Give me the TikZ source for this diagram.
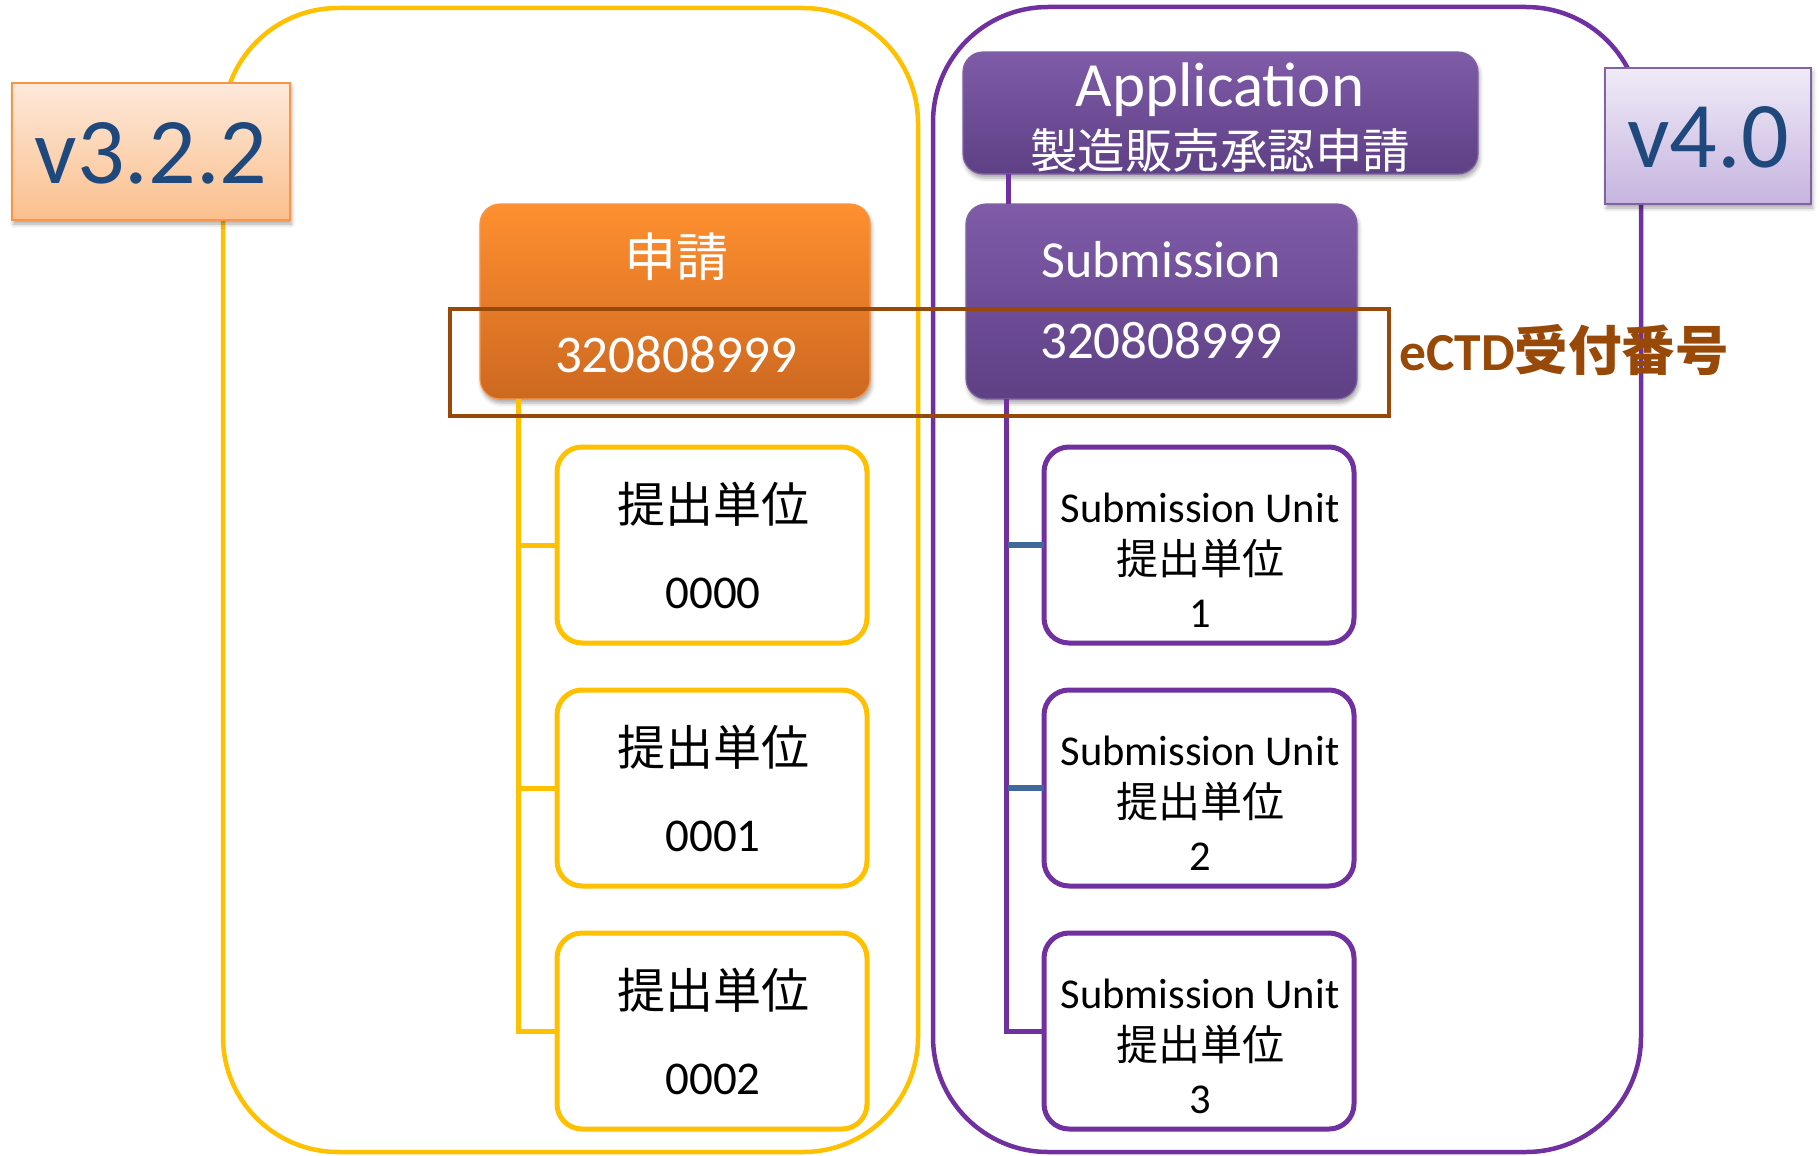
\documentclass[tikz,border=0pt]{standalone}
\usepackage{fontspec}
\setmainfont{Carlito}
\newfontfamily\jp{Noto Sans CJK JP}
\usetikzlibrary{shadows.blur}

\definecolor{frameY}{HTML}{FFC000}
\definecolor{frameP}{HTML}{7030A0}
\definecolor{orTop}{HTML}{FF9030}
\definecolor{orBot}{HTML}{CD6820}
\definecolor{orEdge}{HTML}{F79646}
\definecolor{puTop}{HTML}{7F5BA8}
\definecolor{puBot}{HTML}{5E4085}
\definecolor{puEdge}{HTML}{8064A2}
\definecolor{peachTop}{HTML}{FDE9DA}
\definecolor{peachBot}{HTML}{FBBF8D}
\definecolor{lavTop}{HTML}{F0EBF7}
\definecolor{lavBot}{HTML}{C6B4DF}
\definecolor{verText}{HTML}{1F497D}
\definecolor{idBrown}{HTML}{984807}
\definecolor{stubBlue}{HTML}{41689A}

\tikzset{
  softshadow/.style={blur shadow={shadow xshift=1.5pt, shadow yshift=-4pt,
      shadow opacity=35, shadow blur radius=4pt}},
  boxbase/.style={anchor=north west, inner sep=0pt, outer sep=0pt},
  versionbox/.style={boxbase, line width=2pt, softshadow},
  headbox/.style={boxbase, rounded corners=20pt, line width=1.2pt, softshadow},
  orangebox/.style={headbox, top color=orTop, bottom color=orBot, draw=orEdge},
  purplebox/.style={headbox, top color=puTop, bottom color=puBot, draw=puEdge},
  unitbox/.style={boxbase, rounded corners=25pt, line width=5pt, fill=white,
      minimum width=310pt, minimum height=196pt},
  yunit/.style={unitbox, draw=frameY},
  punit/.style={unitbox, draw=frameP},
  yframe/.style={draw=frameY, line width=4.5pt, rounded corners=115pt},
  pframe/.style={draw=frameP, line width=4.5pt, rounded corners=115pt},
  yconn/.style={draw=frameY, line width=5pt},
  pconn/.style={draw=frameP, line width=5pt},
  bconn/.style={draw=stubBlue, line width=5.5pt},
  txt/.style={anchor=base, inner sep=0pt},
}

\begin{document}
\begin{tikzpicture}[x=1pt, y=-1pt]
\useasboundingbox (0,0) rectangle (1820,1156);

% outer frames of the two versions
\draw[yframe] (223,8) rectangle (918,1152);
\draw[pframe] (933,7) rectangle (1641,1152);

% header boxes
\node[purplebox, minimum width=515pt, minimum height=122pt] (app) at (963,52) {};
\node[orangebox, minimum width=390pt, minimum height=195pt] (shinsei) at (480,204) {};
\node[purplebox, minimum width=391pt, minimum height=195pt] (sub) at (966,204) {};

% submission units
\node[yunit] (c1) at (557,447) {};
\node[yunit] (c2) at (557,690) {};
\node[yunit] (c3) at (557,933) {};
\node[punit] (u1) at (1044,447) {};
\node[punit] (u2) at (1044,690) {};
\node[punit] (u3) at (1044,933) {};

% tree connectors (v3.2.2)
\draw[yconn] ([xshift=38pt]shinsei.south west) |- (c3.west);
\draw[yconn] (c1.west) -- ++(-39,0);
\draw[yconn] (c2.west) -- ++(-39,0);

% tree connectors (v4.0)
\draw[pconn] ([xshift=45pt]app.south west) -- ++(0,30);
\draw[pconn] ([xshift=40pt]sub.south west) |- (u3.west);
\draw[bconn] (u1.west) -- ++(-36,0);
\draw[bconn] (u2.west) -- ++(-36,0);

% version tags
\node[versionbox, top color=peachTop, bottom color=peachBot, draw=orEdge,
      minimum width=278pt, minimum height=137pt] (v3) at (12,83) {};
\node[versionbox, top color=lavTop, bottom color=lavBot, draw=puEdge,
      minimum width=206pt, minimum height=136pt] (v4) at (1605,68) {};
\node[txt, text=verText, font=\fontsize{94}{94}\selectfont] (v3t) at (151,183) {v3.2.2};
\node[txt, text=verText, font=\fontsize{94}{94}\selectfont] (v4t) at (1708,167) {v4.0};

% header texts
\node[txt, text=white, font=\fontsize{63}{63}\selectfont] (appt) at (1220,106) {Application};
\node[txt, text=white, font=\jp\fontsize{47.5}{47.5}\selectfont] (appj) at (1220,168) {製造販売承認申請};
\node[txt, text=white, font=\jp\fontsize{52}{52}\selectfont] (shinseit) at (676,276) {申請};
\node[txt, text=white, font=\fontsize{53}{53}\selectfont] (shinseinum) at (676,372) {320808999};
\node[txt, text=white, font=\fontsize{52}{52}\selectfont] (subt) at (1161,277) {Submission};
\node[txt, text=white, font=\fontsize{53}{53}\selectfont] (subnum) at (1161,358) {320808999};

% unit texts (v3.2.2)
\foreach \n/\y/\num in {c1/447/0000, c2/690/0001, c3/933/0002} {
  \node[txt, font=\jp\fontsize{48}{48}\selectfont] (\n a) at (713,\y+75) {提出単位};
  \node[txt, font=\fontsize{47}{47}\selectfont] (\n b) at (713,\y+161) {\num};
}
% unit texts (v4.0)
\foreach \n/\y/\num in {u1/447/1, u2/690/2, u3/933/3} {
  \node[txt, font=\fontsize{42.5}{42.5}\selectfont] (\n a) at (1200,\y+75) {Submission Unit};
  \node[txt, font=\jp\fontsize{42}{42}\selectfont] (\n b) at (1200,\y+127) {提出単位};
  \node[txt, font=\fontsize{42.5}{42.5}\selectfont] (\n c) at (1200,\y+180) {\num};
}

% receipt number highlight
\draw[idBrown, line width=4.5pt] (450,309) rectangle (1389,416);
\node[txt, anchor=base west, text=idBrown] (ectd) at (1399,370)
  {\fontsize{53.5}{53.5}\selectfont\bfseries eCTD{\jp 受付番号}};
\end{tikzpicture}
\end{document}
